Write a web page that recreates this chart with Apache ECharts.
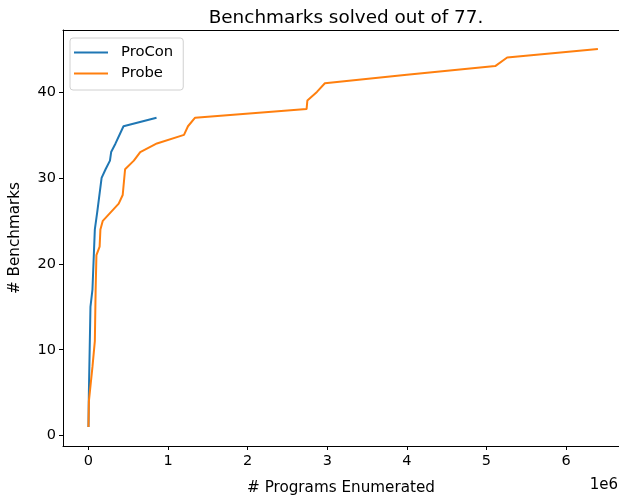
<!DOCTYPE html>
<html><head><meta charset="utf-8">
<script src="https://cdn.jsdelivr.net/npm/echarts@6/dist/echarts.min.js"></script>
<style>html,body{margin:0;padding:0;background:#fff}#c{width:619px;height:501px}</style>
</head><body><div id="c"></div>
<script>
const titleText = 'Benchmarks solved out of 77.';
const xTicks = [0, 1, 2, 3, 4, 5, 6];
const yTicks = [0, 10, 20, 30, 40];
// x values in millions of programs enumerated
const proconX = [0, 0.005, 0.025, 0.05, 0.08, 0.11, 0.165, 0.215, 0.27, 0.285, 0.34, 0.44, 0.855];
const proconY = [1, 5, 15, 17, 24, 26, 30, 31, 32, 33, 34, 36, 37];
const probeX = [0, 0.005, 0.05, 0.08, 0.09, 0.1, 0.14, 0.15, 0.18, 0.38, 0.43, 0.46, 0.57, 0.65, 0.86, 1.2, 1.25, 1.34, 2.74, 2.75, 2.87, 2.97, 4.0, 5.11, 5.26, 6.4];
const probeY = [1, 4, 8, 11, 17, 21, 22, 24, 25, 27, 28, 31, 32, 33, 34, 35, 36, 37, 38, 39, 40, 41, 42, 43, 44, 45];

const zip = (xs, ys) => xs.map((x, i) => [x, ys[i]]);
const FONT = 'DejaVu Sans';
const chart = echarts.init(document.getElementById('c'), null, {renderer: 'canvas'});
chart.setOption({
  animation: false,
  backgroundColor: '#fff',
  textStyle: {fontFamily: FONT},
  title: {text: titleText, left: 341, top: 4, textAlign: 'center',
    textStyle: {fontFamily: FONT, fontSize: 18.4, fontWeight: 'normal', color: '#000'}},
  grid: {left: 62.5, right: 0, top: 30, bottom: 54.7, show: false, containLabel: false},
  legend: {
    left: 70, top: 38, orient: 'vertical', icon: 'rect', itemWidth: 34, itemHeight: 2, itemGap: 6,
    padding: [7, 10, 9, 4], backgroundColor: 'rgba(255,255,255,0.8)', borderColor: '#d0d0d0', borderWidth: 1, borderRadius: 3,
    textStyle: {fontFamily: FONT, fontSize: 14.8, color: '#000', padding: [0, 0, 0, 8]},
    data: ['ProCon', 'Probe']
  },
  xAxis: [{
    type: 'value', min: -0.32, max: 6.665,
    name: '# Programs Enumerated', nameLocation: 'middle', nameGap: 35,
    nameTextStyle: {fontFamily: FONT, fontSize: 15.2, color: '#000'},
    axisLine: {show: true, onZero: false, lineStyle: {color: '#000'}},
    axisTick: {show: true, length: 4, lineStyle: {color: '#000'}, customValues: xTicks},
    axisLabel: {fontFamily: FONT, fontSize: 14.5, color: '#000', margin: 8, customValues: xTicks, formatter: v => String(v)},
    splitLine: {show: false}
  }, {
    type: 'value', position: 'top', min: -0.32, max: 6.665,
    axisLine: {show: true, onZero: false, lineStyle: {color: '#000'}},
    axisTick: {show: false}, axisLabel: {show: false}, splitLine: {show: false}
  }],
  yAxis: {
    type: 'value', min: -1.2, max: 47.2,
    name: '# Benchmarks', nameLocation: 'middle', nameGap: 40, nameRotate: 90,
    nameTextStyle: {fontFamily: FONT, fontSize: 15.2, color: '#000'},
    axisLine: {show: true, onZero: false, lineStyle: {color: '#000'}},
    axisTick: {show: true, length: 4, lineStyle: {color: '#000'}, customValues: yTicks},
    axisLabel: {fontFamily: FONT, fontSize: 14.5, color: '#000', margin: 7, customValues: yTicks, formatter: v => String(v)},
    splitLine: {show: false}
  },
  graphic: [{type: 'text', right: 1, top: 478, style: {text: '1e6', font: '15px "DejaVu Sans"', fill: '#000'}}],
  series: [
    {name: 'ProCon', type: 'line', data: zip(proconX, proconY), symbol: 'none', showSymbol: false,
      lineStyle: {color: '#1f77b4', width: 2}, itemStyle: {color: '#1f77b4'}, z: 3},
    {name: 'Probe', type: 'line', data: zip(probeX, probeY), symbol: 'none', showSymbol: false,
      lineStyle: {color: '#ff7f0e', width: 2}, itemStyle: {color: '#ff7f0e'}, z: 4}
  ]
});
</script></body></html>
